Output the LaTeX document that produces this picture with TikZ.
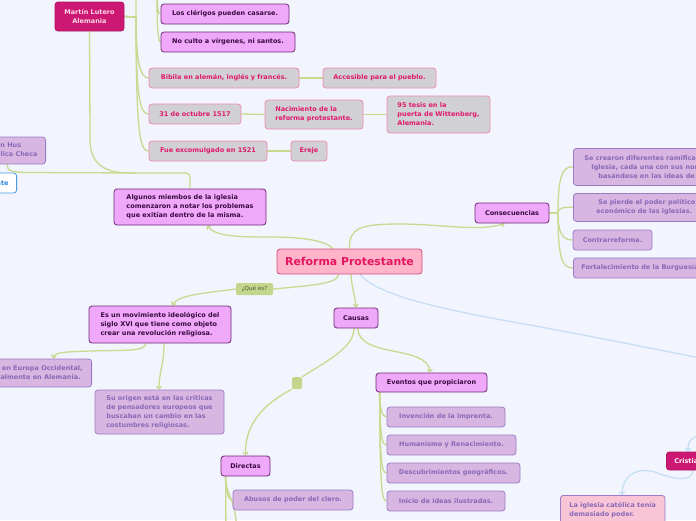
\documentclass[tikz,border=0pt]{standalone}
\usepackage{fontspec}
\setmainfont{DejaVu Sans}
\usetikzlibrary{arrows.meta}
\definecolor{bgc}{HTML}{F2F5FE}
\definecolor{dpfill}{HTML}{EFA8FA}
\definecolor{dpdraw}{HTML}{6E2A72}
\definecolor{dptext}{HTML}{3A0A40}
\definecolor{lpfill}{HTML}{D9B6E2}
\definecolor{lpdraw}{HTML}{9A7DC6}
\definecolor{lptext}{HTML}{8869B6}
\definecolor{gyfill}{HTML}{D1D1D5}
\definecolor{gydraw}{HTML}{F08CB2}
\definecolor{gytext}{HTML}{DF1A6A}
\definecolor{mainfill}{HTML}{FFB4CA}
\definecolor{maindraw}{HTML}{D54B7E}
\definecolor{maintext}{HTML}{E3165F}
\definecolor{mgfill}{HTML}{CD1873}
\definecolor{mgtext}{HTML}{FDD8EA}
\definecolor{qfill}{HTML}{C4D68B}
\definecolor{qtext}{HTML}{4D5A2C}
\definecolor{lgreen}{HTML}{C9D98F}
\definecolor{lblue}{HTML}{C3DDF3}
\definecolor{pkfill}{HTML}{F9C5D6}
\definecolor{tedraw}{HTML}{4A9AE6}
\definecolor{tetext}{HTML}{2E86DE}
\pgfdeclarelayer{back}
\pgfsetlayers{back,main}
\tikzset{
 conn/.style={draw=lgreen, line width=1.3pt},
 arr/.style={-{Straight Barb[length=2.5pt,width=5pt]}},
 bconn/.style={draw=lblue, line width=1.2pt},
 bx/.style={rounded corners=3pt, line width=0.8pt, inner xsep=7pt, inner ysep=1pt, font=\fontsize{6.5}{9}\selectfont\bfseries, align=left},
 dp/.style={bx, fill=dpfill, draw=dpdraw, text=dptext},
 lp/.style={bx, fill=lpfill, draw=lpdraw, text=lptext},
 gy/.style={bx, fill=gyfill, draw=gydraw, text=gytext},
 mg/.style={bx, fill=mgfill, draw=mgfill!85!black, text=mgtext, align=center},
 mainst/.style={rounded corners=3pt, line width=0.8pt, fill=mainfill, draw=maindraw, text=maintext, font=\fontsize{10.9}{12}\selectfont\bfseries},
}
\begin{document}
\begin{tikzpicture}[x=1pt,y=-1pt]
\useasboundingbox (0,0) rectangle (696,520);
\begin{scope}
\clip (0,0) rectangle (696,520);
\node[mg, minimum width=69pt, minimum height=29pt] (ml) at (89.5,16.5) {Martín Lutero\\Alemania};
\node[dp, minimum width=128pt, minimum height=20pt] (cler) at (225,14) {Los clérigos pueden casarse.};
\node[dp, minimum width=134pt, minimum height=20pt] (culto) at (228,42) {No culto a vírgenes, ni santos.};
\node[gy, minimum width=150pt, minimum height=20pt] (bib) at (224,78) {Bibila en alemán, inglés y francés.};
\node[gy, minimum width=113pt, minimum height=20pt] (acc) at (379.5,78) {Accesible para el pueblo.};
\node[gy, minimum width=92pt, minimum height=20pt] (oct) at (195,114) {31 de octubre 1517};
\node[gy, minimum width=98pt, minimum height=29pt] (nac) at (314,114.5) {Nacimiento de la\\reforma protestante.};
\node[gy, minimum width=103pt, minimum height=37pt] (tes) at (438.5,114.5) {95 tesis en la\\puerta de Wittenberg,\\Alemania.};
\node[gy, minimum width=118pt, minimum height=20pt] (exc) at (208,151) {Fue excomulgado en 1521};
\node[gy, minimum width=36pt, minimum height=20pt] (ere) at (309,151) {Ereje};
\node[lp, align=center, anchor=east, inner xsep=8pt, minimum height=27pt] (hus) at (46,150.5) {Jan Hus\\República Checa};
\node[bx, fill=white, draw=tedraw, text=tetext, anchor=east, inner xsep=8pt, minimum height=20pt] (te) at (17,183) {Protestante};
\node[dp, minimum width=152pt, minimum height=36pt] (alg) at (190,207) {Algunos miembos de la iglesia\\comenzaron a notar los problemas\\que exitían dentro de la misma.};
\node[mainst, minimum width=145pt, minimum height=25pt] (main) at (349.5,261.5) {Reforma Protestante};
\node[dp, minimum width=74pt, minimum height=20pt] (cons) at (512,213) {Consecuencias};
\node[lp, anchor=north west, inner xsep=11pt, minimum height=37pt] (crea) at (573,148) {Se crearon diferentes ramificaciones de la\\\hspace*{7pt}Iglesia, cada una con sus normas,\\\hspace*{14pt}basándose en las ideas de Lutero.};
\node[lp, anchor=north west, inner xsep=23pt, minimum height=28pt] (pierde) at (573,193) {\hspace*{2pt}Se pierde el poder político y\\económico de las iglesias.};
\node[lp, minimum width=79pt, minimum height=20pt] (contra) at (612.5,240) {Contrarreforma.};
\node[lp, anchor=west, inner xsep=8pt, minimum height=20pt] (fort) at (573,268) {Fortalecimiento de la Burguesía.};
\node[fill=qfill, text=qtext, rounded corners=1.5pt, font=\fontsize{5.6}{6}\selectfont, minimum width=37pt, minimum height=12pt, inner sep=1pt] (que) at (254.5,289) {¿Qué es?};
\node[dp, minimum width=142pt, minimum height=37pt] (mov) at (160,324.5) {Es un movimiento ideológico del\\siglo XVI que tiene como objeto\\crear una revolución religiosa.};
\node[lp, align=right, anchor=east, inner xsep=9pt, minimum height=28pt] (eur) at (92,373) {Se dio en Europa Occidental,\\principalmente en Alemania.\hspace*{2pt}};
\node[lp, minimum width=129pt, minimum height=44pt] (orig) at (159.5,412) {Su origen está en las críticas\\de pensadores europeos que\\buscaban un cambio en las\\costumbres religiosas.};
\node[dp, minimum width=44pt, minimum height=20pt] (causas) at (356,318) {Causas};
\node[fill=qfill, rounded corners=1.5pt, minimum width=10pt, minimum height=12pt, inner sep=0pt] (sq) at (297,383) {};
\node[dp, minimum width=111pt, minimum height=19pt] (ev) at (431.5,382.5) {Eventos que propiciaron};
\node[lp, minimum width=118pt, minimum height=20pt] (inv) at (446,417) {Invención de la imprenta.};
\node[lp, minimum width=129pt, minimum height=20pt] (hum) at (451.5,445) {Humanismo y Renacimiento.};
\node[lp, minimum width=133pt, minimum height=20pt] (desc) at (453.5,473) {Descubrimientos geográficos.};
\node[lp, minimum width=118pt, minimum height=20pt] (ini) at (446,501) {Inicio de ideas ilustradas.};
\node[dp, minimum width=49pt, minimum height=20pt] (dir) at (245.5,466) {Directas};
\node[lp, minimum width=120pt, minimum height=20pt] (abu) at (293,500) {Abusos de poder del clero.};
\node[mg, anchor=west, inner xsep=8pt, minimum height=18pt, text=white] (crist) at (666,461) {Cristianismo};
\node[lp, fill=pkfill, anchor=north west, inner xsep=9pt, minimum height=30pt] (igl) at (560,495) {La iglesia católica tenía\\demasiado poder.};
\end{scope}
\begin{pgfonlayer}{back}
\clip (0,0) rectangle (696,520);
\fill[bgc] (0,0) rectangle (696,520);
\coordinate (offA) at (136,-10);
\coordinate (offB) at (157,-10);
\coordinate (offD) at (226,540);
\coordinate (offD2) at (237,540);
\coordinate (offE) at (720,362);
\coordinate (offF) at (715,432);
% Martin Lutero branches
\draw[conn] (ml.east) -- (136,17) -- (offA);
\draw[conn] (ml.east) -- (136,17) .. controls (136,62) and (140,78) .. (bib.west);
\draw[conn] (ml.east) -- (136,17) .. controls (136,98) and (140,114) .. (oct.west);
\draw[conn] (ml.east) -- (136,17) .. controls (136,134) and (140,151) .. (exc.west);
\draw[conn] (offB) .. controls (157,8) and (158,14) .. (cler.west);
\draw[conn] (offB) .. controls (157,30) and (158,42) .. (culto.west);
\draw[conn] (bib.east) -- (acc.west);
\draw[conn] (oct.east) -- (nac.west);
\draw[conn] (nac.east) -- (tes.west);
\draw[conn] (exc.east) -- (ere.west);
% Algunos miembros to Lutero and Hus
\draw[conn, rounded corners=4pt] (ml.south) -- (90,135) .. controls (90,165) and (105,173) .. (135,173) -- (190,173) -- (alg.north);
\draw[conn] ([xshift=-39pt]hus.south east) .. controls (7,171) and (12,172.5) .. (30,172.5) -- (135,173);
% main
\draw[conn, arr] ([xshift=-16.5pt]main.north) .. controls (325,240) and (300,237) .. (270,237) .. controls (235,237) and (215,236) .. ([xshift=17pt]alg.south);
\draw[conn, arr] (main.north) .. controls (349,228) and (360,224) .. (400,224) .. controls (440,224) and (480,232) .. ([xshift=-7pt]cons.south);
\draw[conn] ([xshift=-11pt]main.south) .. controls (338,283) and (318,285) .. (que.east);
\draw[conn, arr] (que.west) .. controls (205,293) and (178,295) .. ([xshift=12pt]mov.north);
\draw[conn, arr] ([xshift=1.5pt]main.south) .. controls (352,290) and (355,295) .. (causas.north);
\draw[conn, arr] ([xshift=2pt]causas.south) .. controls (358,358) and (428,345) .. ([xshift=-1.5pt]ev.north);
\draw[conn] ([xshift=-2pt]causas.south) .. controls (354,348) and (325,362) .. (sq.north east);
\draw[conn, arr] (sq.south west) .. controls (262,405) and (245,425) .. (dir.north);
\draw[conn, arr] ([xshift=-14pt]mov.south) .. controls (146,352) and (120,350) .. (90,351) .. controls (65,352) and (55,352) .. ([xshift=-39pt]eur.north east);
\draw[conn, arr] ([xshift=4pt]mov.south) .. controls (164,365) and (159,372) .. ([xshift=-0.5pt]orig.north);
% consecuencias
\draw[conn] (cons.east) -- (558,213) .. controls (558,178) and (562,166) .. (crea.west);
\draw[conn] (cons.east) -- (558,213) .. controls (558,208) and (563,207) .. (pierde.west);
\draw[conn] (cons.east) -- (558,213) .. controls (558,232) and (562,240) .. (contra.west);
\draw[conn] (cons.east) -- (558,213) .. controls (558,258) and (562,268) .. (fort.west);
% eventos
\draw[conn] ([xshift=4pt]ev.south west) .. controls (380,409) and (382,417) .. (inv.west);
\draw[conn] ([xshift=4pt]ev.south west) .. controls (380,437) and (382,445) .. (hum.west);
\draw[conn] ([xshift=4pt]ev.south west) .. controls (380,465) and (382,473) .. (desc.west);
\draw[conn] ([xshift=4pt]ev.south west) .. controls (380,493) and (382,501) .. (ini.west);
% directas
\draw[conn] ([xshift=5pt]dir.south west) -- (offD);
\draw[conn] ([xshift=5pt]dir.south west) .. controls (226,493) and (228,500) .. (abu.west);
\draw[conn] ([xshift=5pt]dir.south west) .. controls (226,500) and (237,495) .. (offD2);
% blue
\draw[bconn] ([xshift=10.5pt]main.south) .. controls (375,292) and (420,306) .. (530,325) .. controls (600,338) and (660,350) .. (offE);
\draw[bconn, arr] (offF) .. controls (690,436) and (688,440) .. ([xshift=22pt]crist.north west);
\draw[bconn, arr] ([xshift=27pt]crist.south west) .. controls (692,482) and (675,480) .. (655,472) .. controls (632,466) and (622,480) .. ([xshift=62pt]igl.north west);
\end{pgfonlayer}
\end{tikzpicture}
\end{document}
